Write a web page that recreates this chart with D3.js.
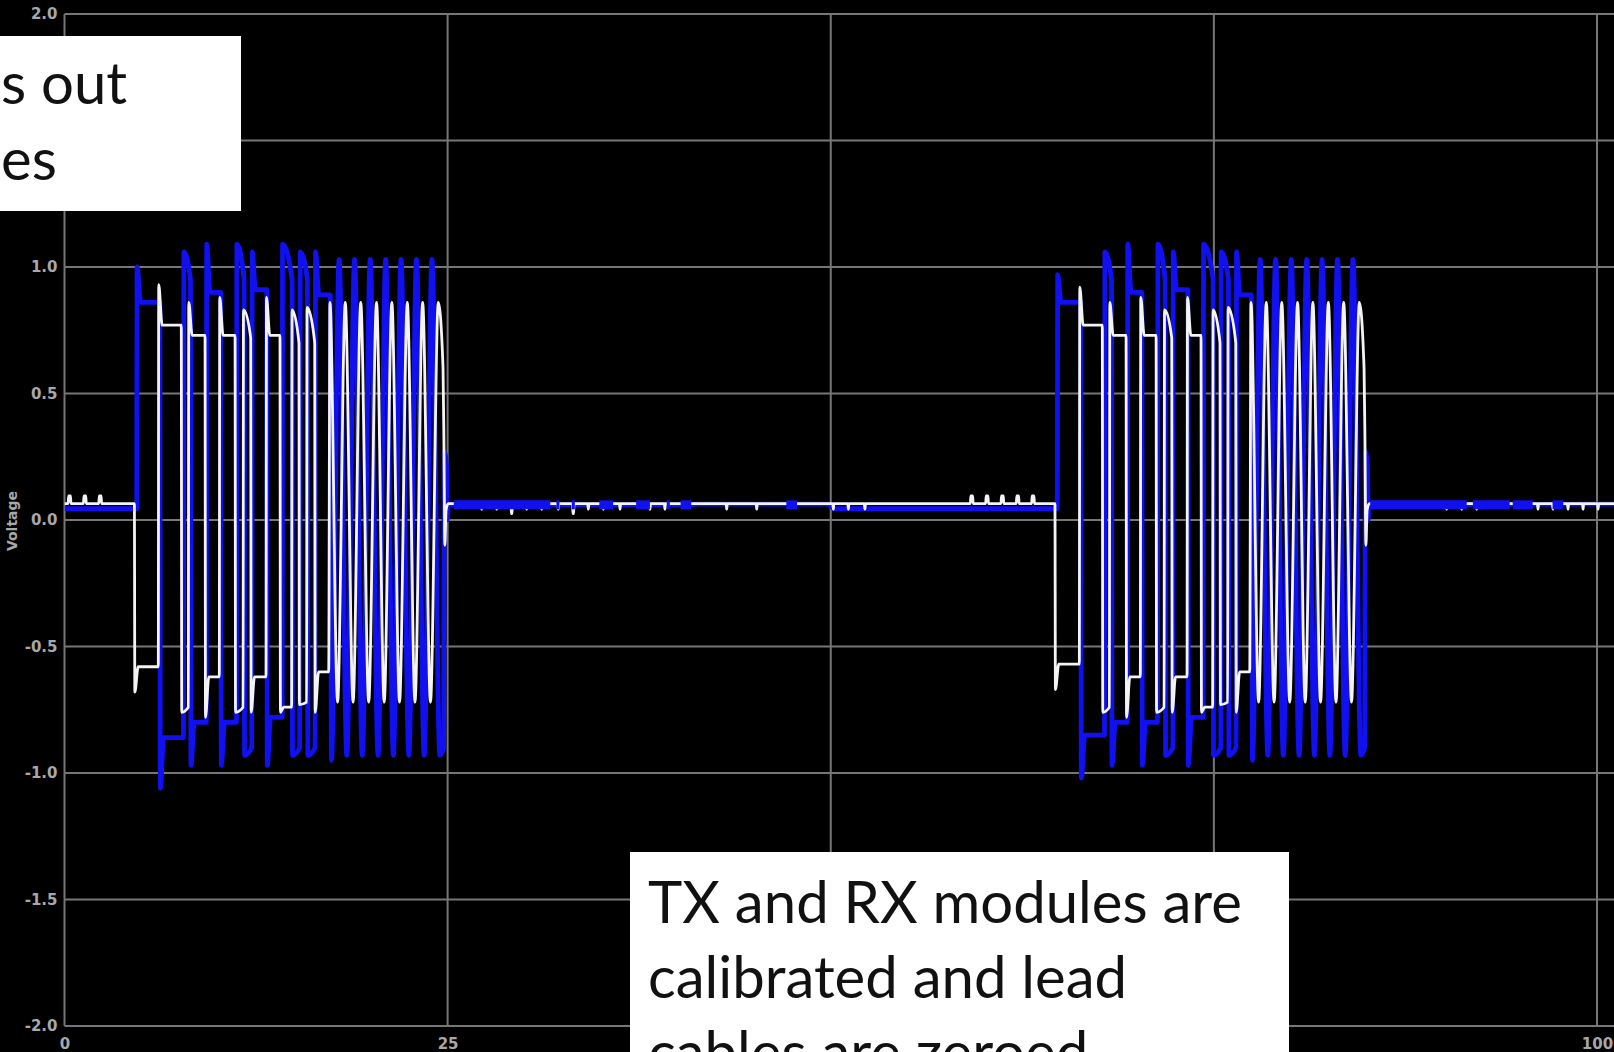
<!DOCTYPE html>
<html><head><meta charset="utf-8">
<script src="https://cdn.jsdelivr.net/npm/d3@7"></script>
<style>
html,body{margin:0;padding:0;background:#000;overflow:hidden;}
svg{display:block;}
</style></head><body>
<svg id="chart" width="1614" height="1052"></svg>
<script>
// ---------- DATA ----------
const xTicks = [0, 25, 50, 75, 100];                 // vertical grid lines
const yTicks = [2.0, 1.5, 1.0, 0.5, 0.0, -0.5, -1.0, -1.5, -2.0]; // horizontal grid lines
const xTickLabels = [0, 25, 100];                     // labels visible in the picture
const yTickLabels = [2.0, 1.0, 0.5, 0.0, -0.5, -1.0, -1.5, -2.0];
const yAxisTitle = "Voltage";
const noteTop = ["s out", "es"];
const noteBottom = ["TX and RX modules are", "calibrated and lead", "cables are zeroed"];

const whiteLevel = 0.065;   // idle level of the white trace
// blue idle level: [time, volts]
const blueIdle = [[0,0.045],[4.68,0.045],[25.1,0.06],[41.0,0.06],[41.3,0.063],[49.8,0.063],[50.2,0.045],[64.74,0.045],[85.1,0.063],[101.2,0.063]];

// burst 1, slow part: [edge time, overshoot, settled level]
const whiteSteps1 = [[4.56,-0.68,-0.58],[6.12,0.93,0.77],[7.62,-0.76,-0.74],[8.08,0.86,0.73],[9.17,-0.78,-0.62],[10.10,0.88,0.73],[11.13,-0.76,-0.74],[11.65,0.83,0.72],[12.15,-0.76,-0.62],[13.15,0.88,0.73],[14.06,-0.76,-0.74],[14.82,0.83,0.70],[15.30,-0.73,-0.72],[15.80,0.84,0.70],[16.33,-0.76,-0.60]];
// burst 1, fast part: peaks and troughs [time, volts]
const whiteZig1 = [[17.32,0.86],[17.82,-0.72],[18.32,0.86],[18.83,-0.72],[19.33,0.86],[19.85,-0.72],[20.36,0.86],[20.86,-0.72],[21.36,0.86],[21.86,-0.72],[22.37,0.86],[22.87,-0.72],[23.37,0.86],[23.88,-0.72],[24.39,0.86],[24.70,0.60],[24.76,0.30],[24.82,-0.10],[24.90,0.04],[25.05,0.065]];
const blueSteps1 = [[4.71,1.00,0.86],[6.22,-1.06,-0.86],[7.76,1.06,0.95],[8.22,-0.97,-0.80],[9.25,1.09,0.90],[10.20,-0.97,-0.80],[11.22,1.09,0.95],[11.72,-0.93,-0.90],[12.22,1.06,0.91],[13.20,-0.97,-0.78],[14.20,1.09,0.95],[14.85,-0.93,-0.90],[15.35,1.06,0.95],[15.85,-0.93,-0.90],[16.35,1.06,0.89]];
const blueZig1 = [[17.42,-0.95],[17.92,1.03],[18.42,-0.93],[18.93,1.03],[19.43,-0.93],[19.95,1.03],[20.46,-0.93],[20.96,1.03],[21.46,-0.93],[21.96,1.03],[22.47,-0.93],[22.97,1.03],[23.47,-0.93],[23.98,1.03],[24.49,-0.93],[24.74,-0.90],[24.78,0.27],[24.92,0.22],[24.97,0.00],[25.05,0.06]];

// burst 2
const whiteSteps2 = [[64.63,-0.67,-0.57],[66.22,0.92,0.77],[67.72,-0.76,-0.74],[68.18,0.86,0.73],[69.27,-0.78,-0.62],[70.20,0.88,0.73],[71.23,-0.76,-0.74],[71.75,0.83,0.72],[72.25,-0.76,-0.62],[73.25,0.88,0.73],[74.16,-0.76,-0.74],[74.92,0.83,0.70],[75.40,-0.73,-0.72],[75.90,0.84,0.70],[76.43,-0.76,-0.60]];
const whiteZig2 = [[77.42,0.86],[77.92,-0.72],[78.42,0.86],[78.93,-0.72],[79.43,0.86],[79.95,-0.72],[80.46,0.86],[80.96,-0.72],[81.46,0.86],[81.96,-0.72],[82.47,0.86],[82.97,-0.72],[83.47,0.86],[83.98,-0.72],[84.49,0.86],[84.80,0.60],[84.86,0.30],[84.92,-0.10],[85.00,0.04],[85.15,0.065]];
const blueSteps2 = [[64.78,0.97,0.86],[66.32,-1.02,-0.85],[67.86,1.06,0.95],[68.32,-0.97,-0.80],[69.35,1.09,0.90],[70.30,-0.97,-0.80],[71.32,1.09,0.95],[71.82,-0.93,-0.90],[72.32,1.06,0.91],[73.30,-0.97,-0.78],[74.30,1.09,0.95],[74.95,-0.93,-0.90],[75.45,1.06,0.95],[75.95,-0.93,-0.90],[76.45,1.06,0.89]];
const blueZig2 = [[77.52,-0.95],[78.02,1.03],[78.52,-0.93],[79.03,1.03],[79.53,-0.93],[80.05,1.03],[80.56,-0.93],[81.06,1.03],[81.56,-0.93],[82.06,1.03],[82.57,-0.93],[83.07,1.03],[83.57,-0.93],[84.08,1.03],[84.59,-0.93],[84.84,-0.90],[84.88,0.27],[85.02,0.22],[85.07,0.00],[85.12,0.06]];

// idle glitches on the white trace (times)
const whiteBumps = [0.33,1.33,2.33,59.2,60.2,61.2,62.2,63.2];
const whiteDips = [29.18,33.2];
const whiteSpecks = [27.22,28.2,30.16,31.14,32.22,34.18,35.16,36.25,38.2,39.18,43.21,45.17,50.17,51.15,52.23,90.19,91.17,92.15,96.15,97.13,98.11,99.09,100.07];
// intervals where the blue idle trace is noisy (thick band)
const blueNoise = [[25.4,31.7],[32.1,32.3],[33.1,33.3],[34.9,35.8],[37.3,38.2],[39.3,39.5],[40.2,40.9],[47.1,47.8],[85.2,91.5],[91.9,94.3],[94.5,95.8],[97.1,97.8]];

// ---------- CHART ----------
const W = 1614, H = 1052;
const x = d3.scaleLinear().domain([0,100]).range([64.5,1597]);
const y = d3.scaleLinear().domain([-2,2]).range([1026,14]);

function stepVerts(steps, prevLevel){
  const v = []; let prev = prevLevel;
  steps.forEach((s,i)=>{
    const [t,p,st] = s;
    const dur = i < steps.length-1 ? steps[i+1][0]-t : 1;
    v.push([t, prev]);
    v.push([t+0.03, p]);
    if (dur > 0.7) v.push([t+0.25, st]);
    prev = st;
  });
  return {v, last: prev};
}
function burstVerts(steps, zig, base){
  const r = stepVerts(steps, base);
  const v = r.v.slice();
  v.push([zig[0][0]-0.08, r.last]);
  return v.concat(zig);
}

let whiteV = [[0,whiteLevel],[101.2,whiteLevel]];
whiteBumps.forEach(t=>whiteV.push([t-0.09,whiteLevel],[t-0.06,whiteLevel+0.03],[t+0.06,whiteLevel+0.03],[t+0.09,whiteLevel]));
whiteDips.forEach(t=>whiteV.push([t-0.05,whiteLevel],[t-0.02,0.025],[t+0.02,0.025],[t+0.05,whiteLevel]));
whiteSpecks.forEach(t=>whiteV.push([t-0.04,whiteLevel],[t,0.042],[t+0.04,whiteLevel]));
whiteV = whiteV.concat(burstVerts(whiteSteps1, whiteZig1, whiteLevel), burstVerts(whiteSteps2, whiteZig2, whiteLevel));
whiteV.sort((a,b)=>a[0]-b[0]);

let blueV = blueIdle.slice();
blueV = blueV.concat(burstVerts(blueSteps1, blueZig1, 0.045), burstVerts(blueSteps2, blueZig2, 0.045));
blueV.sort((a,b)=>a[0]-b[0]);

const svg = d3.select('#chart');
svg.append('rect').attr('width',W).attr('height',H).attr('fill','#000');

svg.append('defs').append('clipPath').attr('id','plot')
  .append('rect').attr('x',x(0)).attr('y',0).attr('width',W-x(0)).attr('height',H);

const grid = svg.append('g');
grid.selectAll('line.h').data(yTicks).join('line').attr('class','h')
  .attr('x1',x(0)).attr('x2',W).attr('y1',d=>y(d)).attr('y2',d=>y(d))
  .attr('stroke','#767676').attr('stroke-width',2);
grid.selectAll('line.v').data(xTicks).join('line').attr('class','v')
  .attr('x1',d=>x(d)).attr('x2',d=>x(d)).attr('y1',y(2)).attr('y2',y(-2))
  .attr('stroke','#767676').attr('stroke-width',2);

const line = d3.line().x(d=>x(d[0])).y(d=>y(d[1])).curve(d3.curveMonotoneX);
const plot = svg.append('g').attr('clip-path','url(#plot)');
plot.append('path').datum(blueV).attr('d',line).attr('fill','none')
  .attr('stroke','#1010f0').attr('stroke-width',4.8).attr('stroke-linejoin','round');
plot.append('path').datum(whiteV).attr('d',line).attr('fill','none')
  .attr('stroke','#f4f4f4').attr('stroke-width',2.8).attr('stroke-linejoin','round');
plot.selectAll('line.noise').data(blueNoise).join('line').attr('class','noise')
  .attr('x1',d=>x(d[0])).attr('x2',d=>x(d[1])).attr('y1',y(0.06)).attr('y2',y(0.06))
  .attr('stroke','#1010f0').attr('stroke-width',9);

// axes labels
const tickStyle = g => g.selectAll('text').attr('fill','#a8a8a8').attr('font-family','DejaVu Sans')
  .attr('font-weight','bold').attr('font-size',15);
svg.append('g').attr('transform',`translate(${x(0)},0)`)
  .call(d3.axisLeft(y).tickValues(yTickLabels).tickFormat(d=>d.toFixed(1)).tickSize(0).tickPadding(7))
  .call(g=>g.select('.domain').remove()).call(tickStyle);
svg.append('g').attr('transform',`translate(0,${y(-2)})`)
  .call(d3.axisBottom(x).tickValues(xTickLabels).tickFormat(d=>String(d)).tickSize(0).tickPadding(12))
  .call(g=>g.select('.domain').remove()).call(tickStyle);
svg.append('text').attr('transform',`translate(13,${y(0)+1}) rotate(-90)`)
  .attr('text-anchor','middle').attr('dominant-baseline','middle')
  .attr('font-family','DejaVu Sans').attr('font-weight','bold').attr('font-size',14)
  .attr('fill','#a8a8a8').text(yAxisTitle);

// note boxes
svg.append('rect').attr('x',0).attr('y',36).attr('width',241).attr('height',175).attr('fill','#fff');
svg.append('rect').attr('x',630).attr('y',852).attr('width',659).attr('height',210).attr('fill','#fff');
const probe = svg.append('text').attr('font-family','Lato').attr('font-size',60).text(noteBottom[0]);
const fs = 60*594/probe.node().getComputedTextLength();
probe.remove();
svg.selectAll('text.nt').data(noteTop).join('text').attr('class','nt')
  .attr('x',1).attr('y',(d,i)=>104+i*76).attr('font-family','Lato').attr('font-size',fs)
  .attr('fill','#111').text(d=>d);
svg.selectAll('text.nb').data(noteBottom).join('text').attr('class','nb')
  .attr('x',648).attr('y',(d,i)=>923+i*75).attr('font-family','Lato').attr('font-size',fs)
  .attr('fill','#111').text(d=>d);
</script>
</body></html>
